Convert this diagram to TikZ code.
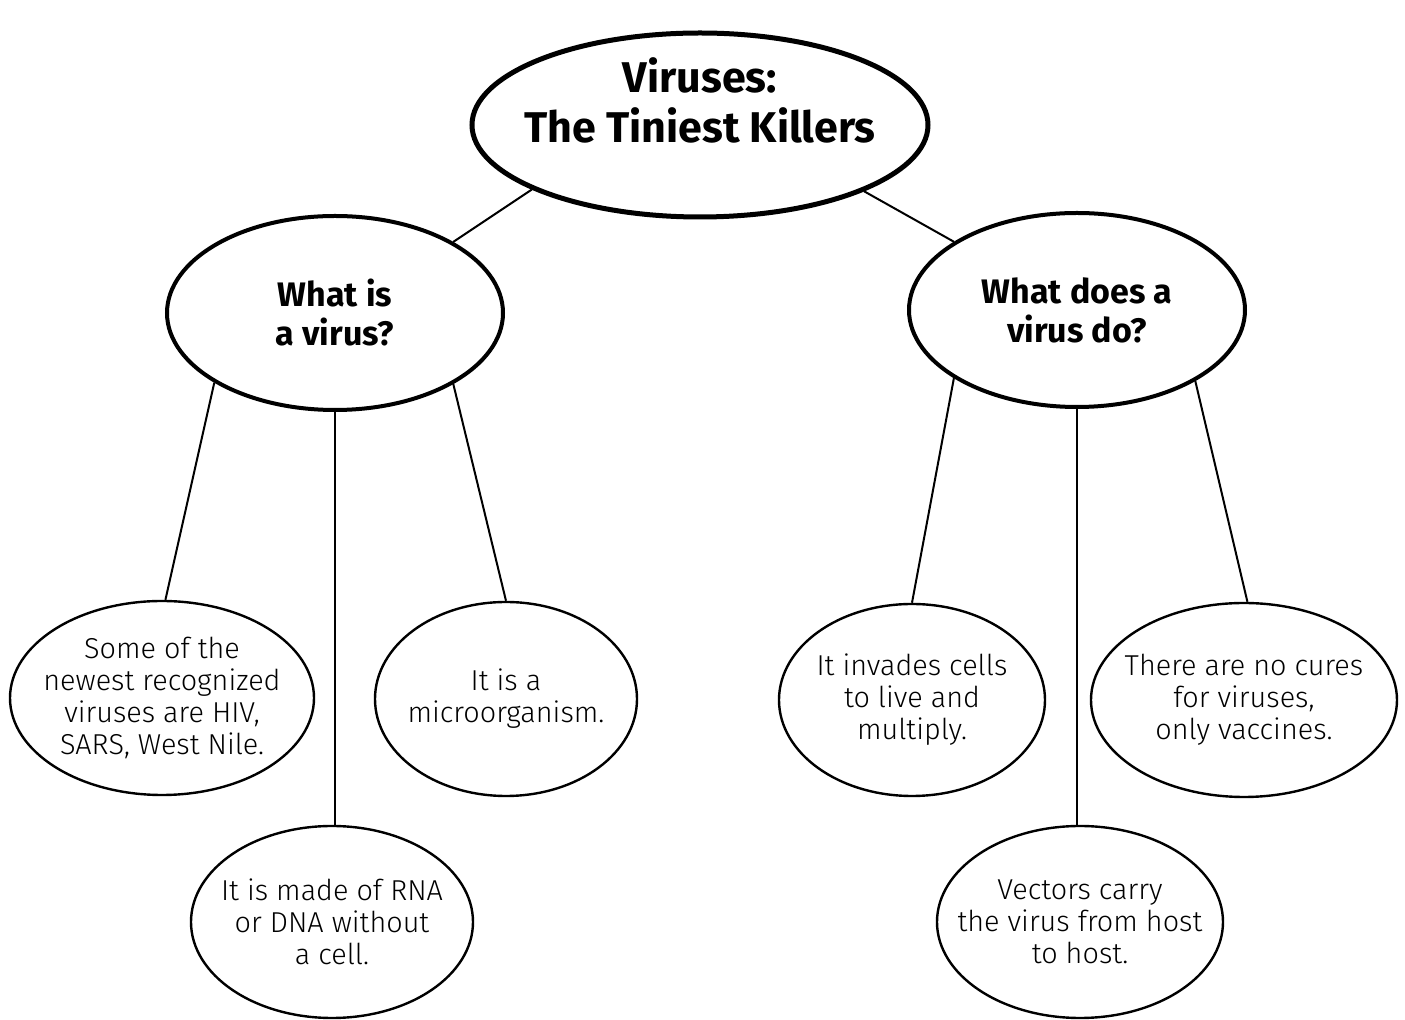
\documentclass[tikz,border=0pt]{standalone}
\usepackage{fontspec}
\setmainfont{Fira Sans}
\newfontfamily\leaffont{Fira Sans Light}
\usetikzlibrary{shapes.geometric}
\begin{document}
\begin{tikzpicture}[x=0.5pt,y=-0.5pt,
  bubble/.style={ellipse,draw=black,inner xsep=-30pt,inner ysep=-20pt,align=center},
  topbox/.style={bubble,line width=2.5pt,minimum width=228pt,minimum height=92pt},
  toptext/.style={align=center,inner sep=0pt,font=\bfseries\fontsize{21.5}{25}\selectfont},
  qbox/.style={bubble,line width=2pt,minimum width=168pt,minimum height=97pt,
     font=\bfseries\fontsize{17}{19.5}\selectfont},
  leafbox/.style={bubble,line width=1.2pt,minimum height=97pt,
     font=\leaffont\fontsize{14.4}{16}\selectfont},
  link/.style={line width=1pt}]
\useasboundingbox (0,0) rectangle (1405,1020);
\node[topbox] (top) at (700,125) {};
\node[toptext] (toptitle) at (700,100) {Viruses:\\The Tiniest Killers};
\node[qbox] (q1) at (335,313) {What is\\a virus?};
\node[qbox] (q2) at (1077,310) {What does a\\virus do?};
\node[leafbox,minimum width=152pt] (l1) at (162,698) {Some of the\\newest recognized\\viruses are HIV,\\SARS, West Nile.};
\node[leafbox,minimum width=131pt] (l2) at (506,699) {It is a\\microorganism.};
\node[leafbox,minimum width=141pt,minimum height=96pt] (l3) at (332,922) {It is made of RNA\\or DNA without\\a cell.};
\node[leafbox,minimum width=133pt,minimum height=96pt] (l4) at (912,700) {It invades cells\\to live and\\multiply.};
\node[leafbox,minimum width=153pt] (l5) at (1244,700) {There are no cures\\for viruses,\\only vaccines.};
\node[leafbox,minimum width=143pt,minimum height=96pt] (l6) at (1080,922) {Vectors carry\\the virus from host\\to host.};
\draw[link] (top.201) -- (q1.31);
\draw[link] (top.338.5) -- (q2.151.6);
\draw[link] (q1.210) -- (l1.88);
\draw[link] (q1.south) -- (q1.south |- l3.north);
\draw[link] (q1.-31) -- (l2.90);
\draw[link] (q2.209.5) -- (l4.90);
\draw[link] (q2.south) -- (q2.south |- l6.north);
\draw[link] (q2.-31.5) -- (l5.88);
\end{tikzpicture}
\end{document}
